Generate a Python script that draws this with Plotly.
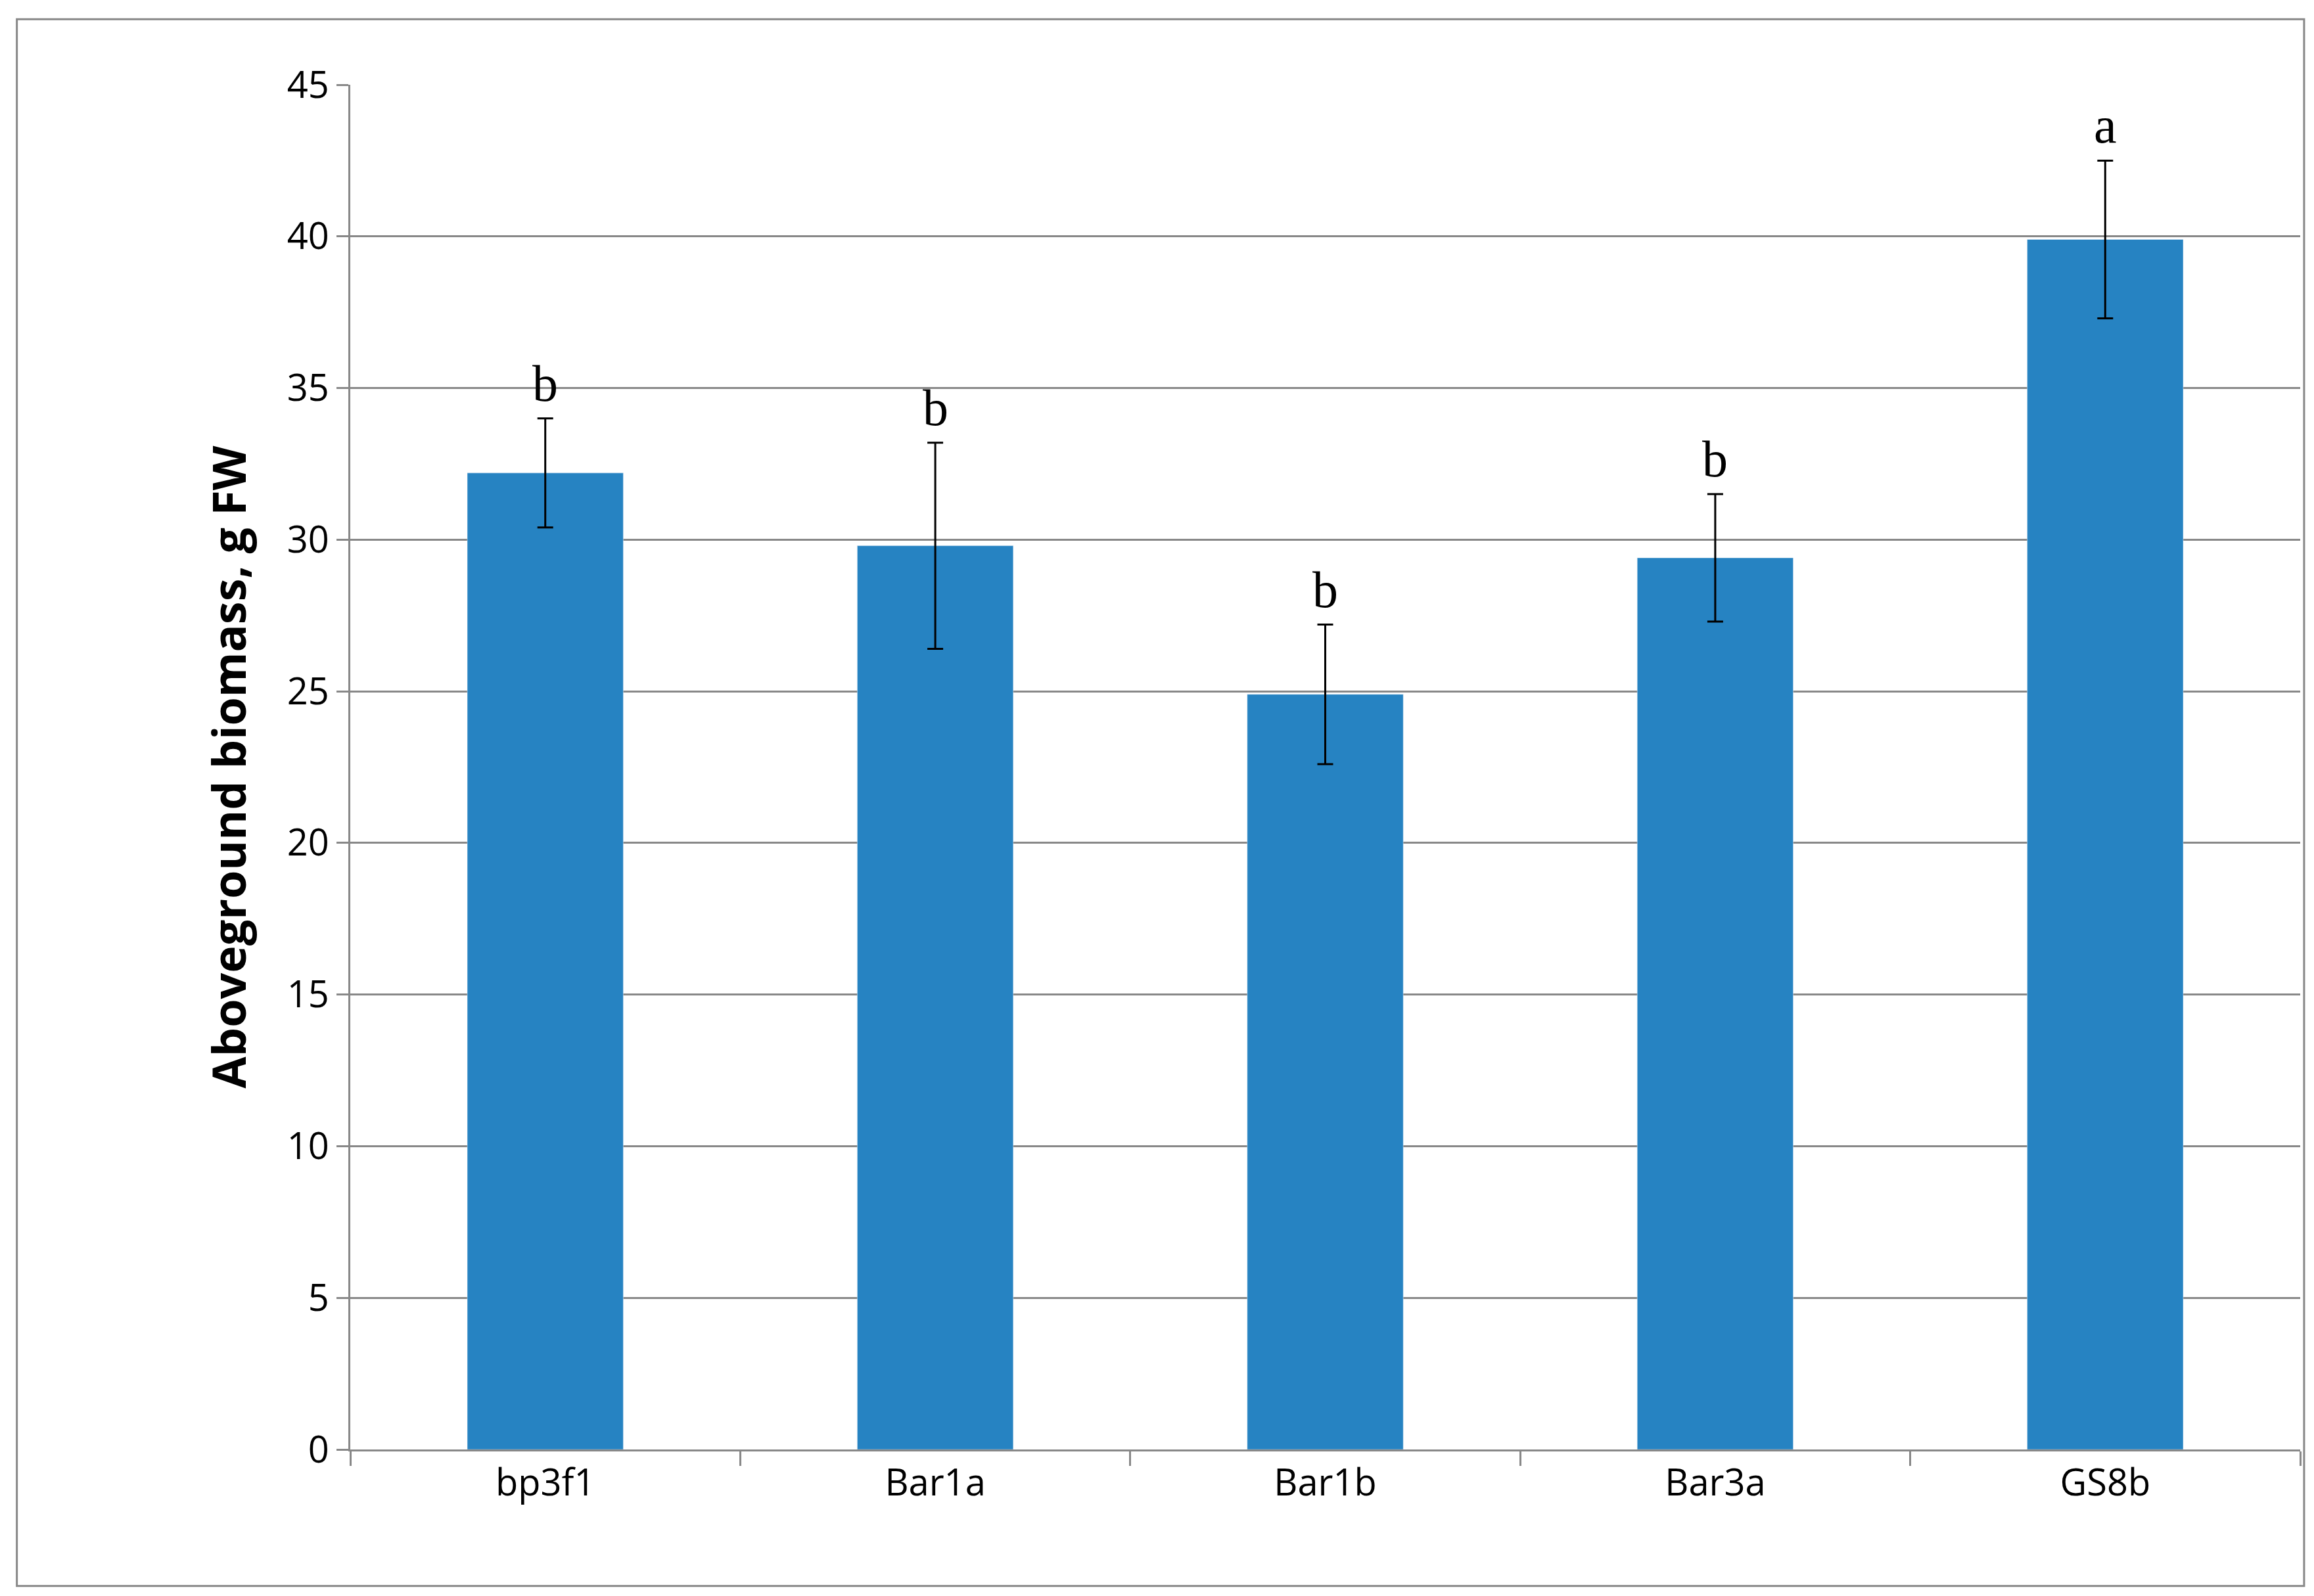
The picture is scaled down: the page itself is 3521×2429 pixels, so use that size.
import plotly.graph_objects as go

categories = ["bp3f1", "Bar1a", "Bar1b", "Bar3a", "GS8b"]
values = [32.2, 29.8, 24.9, 29.4, 39.9]
errors = [1.8, 3.4, 2.3, 2.1, 2.6]
letters = ["b", "b", "b", "b", "a"]

fig = go.Figure(go.Bar(
    x=categories, y=values, width=0.4, marker_color="#2683C2",
    error_y=dict(type="data", array=errors, color="black", thickness=3, width=12),
))
for c, v, e, l in zip(categories, values, errors, letters):
    fig.add_annotation(x=c, y=v + e, text=l, showarrow=False, yanchor="bottom", yshift=8,
                       font=dict(family="Liberation Serif", size=78, color="black"))

fig.update_layout(
    width=3521, height=2429, paper_bgcolor="white", plot_bgcolor="white",
    margin=dict(l=525, r=29, t=121, b=231), showlegend=False,
    font=dict(family="Open Sans", size=56, color="black"),
    shapes=[dict(type="rect", xref="paper", yref="paper", x0=-0.171, x1=1.002, y0=-0.10, y1=1.048,
                 line=dict(color="#888888", width=3))],
)
fig.update_xaxes(showline=True, linecolor="#888888", linewidth=3, ticks="outside", tickson="boundaries",
                 ticklen=22, tickwidth=3, tickcolor="#888888", showgrid=False)
fig.update_yaxes(range=[0, 45], dtick=5, showline=True, linecolor="#888888", linewidth=3,
                 ticks="outside", ticklen=18, tickwidth=3, tickcolor="#888888",
                 gridcolor="#888888", gridwidth=3,
                 title=dict(text="<b>Aboveground biomass, g FW</b>", font=dict(size=70), standoff=40))
fig.write_html("out.html")
